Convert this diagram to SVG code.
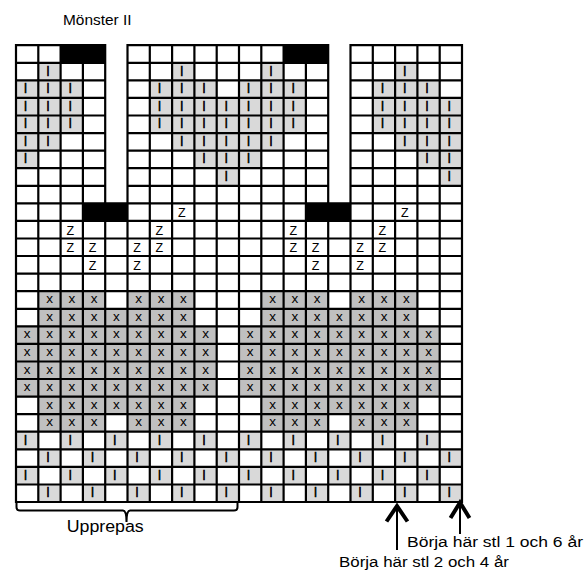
<svg xmlns="http://www.w3.org/2000/svg" width="587" height="571" viewBox="0 0 587 571">
<style>
.lt{fill:#d9d9d9}
.dk{fill:#c0c0c0}
.bk{fill:#000}
.grid{fill:none;stroke:#000;stroke-width:2.2;stroke-linecap:square}
.b{font-family:"Liberation Sans",Arial,sans-serif;font-size:11.5px;text-anchor:middle;fill:#000;stroke:#000;stroke-width:0.65}
.x{font-family:"Liberation Sans",Arial,sans-serif;font-size:13.5px;text-anchor:middle;fill:#000}
.z{font-family:"Liberation Sans",Arial,sans-serif;font-size:12.5px;text-anchor:middle;fill:#000}
.lab{font-family:"Liberation Sans",Arial,sans-serif;fill:#000}
.arr{fill:none;stroke:#000}
</style>
<defs>
<pattern id="chk" patternUnits="userSpaceOnUse" x="16" y="431.7" width="44.6" height="35.14">
<rect x="0" y="0" width="22.3" height="17.57" fill="#d9d9d9"/>
<rect x="22.3" y="17.57" width="22.3" height="17.57" fill="#d9d9d9"/>
</pattern>
</defs>
<rect x="0" y="0" width="587" height="571" fill="#fff"/>
<g id="title"><text class="lab" x="63" y="25" font-size="15" textLength="68.5" lengthAdjust="spacingAndGlyphs">Mönster II</text></g>
<g id="fills">
<rect class="lt" x="38.3" y="62.8" width="22.3" height="17.5"/>
<rect class="lt" x="16" y="80.3" width="66.9" height="52.8"/>
<rect class="lt" x="16" y="133.1" width="44.6" height="17.5"/>
<rect class="lt" x="16" y="150.6" width="22.3" height="17.6"/>
<rect class="lt" x="149.8" y="80.3" width="22.3" height="52.8"/>
<rect class="lt" x="172.1" y="62.8" width="22.3" height="87.8"/>
<rect class="lt" x="194.4" y="80.3" width="22.3" height="87.9"/>
<rect class="lt" x="216.7" y="97.9" width="22.3" height="87.9"/>
<rect class="lt" x="261.3" y="62.8" width="22.3" height="17.5"/>
<rect class="lt" x="239" y="80.3" width="66.9" height="52.8"/>
<rect class="lt" x="239" y="133.1" width="44.6" height="17.5"/>
<rect class="lt" x="239" y="150.6" width="22.3" height="17.6"/>
<rect class="lt" x="372.8" y="80.3" width="22.3" height="52.8"/>
<rect class="lt" x="395.1" y="62.8" width="22.3" height="87.8"/>
<rect class="lt" x="417.4" y="80.3" width="22.3" height="87.9"/>
<rect class="lt" x="439.7" y="97.9" width="22.3" height="87.9"/>
<rect class="dk" x="38.3" y="291.2" width="66.9" height="17.6"/>
<rect class="dk" x="127.5" y="291.2" width="66.9" height="17.6"/>
<rect class="dk" x="38.3" y="308.8" width="156.1" height="17.5"/>
<rect class="dk" x="16" y="326.3" width="200.7" height="70.3"/>
<rect class="dk" x="38.3" y="396.6" width="156.1" height="17.6"/>
<rect class="dk" x="38.3" y="414.2" width="66.9" height="17.5"/>
<rect class="dk" x="127.5" y="414.2" width="66.9" height="17.5"/>
<rect class="dk" x="261.3" y="291.2" width="66.9" height="17.6"/>
<rect class="dk" x="350.5" y="291.2" width="66.9" height="17.6"/>
<rect class="dk" x="261.3" y="308.8" width="156.1" height="17.5"/>
<rect class="dk" x="239" y="326.3" width="200.7" height="70.3"/>
<rect class="dk" x="261.3" y="396.6" width="156.1" height="17.6"/>
<rect class="dk" x="261.3" y="414.2" width="66.9" height="17.5"/>
<rect class="dk" x="350.5" y="414.2" width="66.9" height="17.5"/>
<rect x="16" y="431.7" width="446" height="70.3" fill="url(#chk)"/>
<rect class="bk" x="60.6" y="45.2" width="44.6" height="17.6"/>
<rect class="bk" x="283.6" y="45.2" width="44.6" height="17.6"/>
<rect class="bk" x="82.9" y="203.3" width="44.6" height="17.6"/>
<rect class="bk" x="305.9" y="203.3" width="44.6" height="17.6"/>
</g>
<g id="grid">
<path class="grid" d="M16 45.2H105.2M127.5 45.2H328.2M350.5 45.2H462
M16 62.8H105.2M127.5 62.8H328.2M350.5 62.8H462
M16 80.3H105.2M127.5 80.3H328.2M350.5 80.3H462
M16 97.9H105.2M127.5 97.9H328.2M350.5 97.9H462
M16 115.5H105.2M127.5 115.5H328.2M350.5 115.5H462
M16 133.1H105.2M127.5 133.1H328.2M350.5 133.1H462
M16 150.6H105.2M127.5 150.6H328.2M350.5 150.6H462
M16 168.2H105.2M127.5 168.2H328.2M350.5 168.2H462
M16 185.8H105.2M127.5 185.8H328.2M350.5 185.8H462
M16 203.3H462M16 220.9H462M16 238.5H462M16 256H462M16 273.6H462M16 291.2H462
M16 308.8H462M16 326.3H462M16 343.9H462M16 361.5H462M16 379H462M16 396.6H462
M16 414.2H462M16 431.7H462M16 449.3H462M16 466.9H462M16 484.5H462M16 502H462
M16 45.2V502M38.3 45.2V502M60.6 45.2V502M82.9 45.2V502M105.2 45.2V502M127.5 45.2V502
M149.8 45.2V502M172.1 45.2V502M194.4 45.2V502M216.7 45.2V502M239 45.2V502
M261.3 45.2V502M283.6 45.2V502M305.9 45.2V502M328.2 45.2V502M350.5 45.2V502
M372.8 45.2V502M395.1 45.2V502M417.4 45.2V502M439.7 45.2V502M462 45.2V502"/>
</g>
<g id="bars" class="b">
<text x="47.9" y="73.6">|</text><text x="181.7" y="73.6">|</text><text x="270.9" y="73.6">|</text><text x="404.7" y="73.6">|</text>
<text x="25.6" y="91.1">|</text><text x="47.9" y="91.1">|</text><text x="70.2" y="91.1">|</text><text x="159.4" y="91.1">|</text><text x="181.7" y="91.1">|</text><text x="204" y="91.1">|</text>
<text x="248.6" y="91.1">|</text><text x="270.9" y="91.1">|</text><text x="293.2" y="91.1">|</text><text x="382.4" y="91.1">|</text><text x="404.7" y="91.1">|</text><text x="427" y="91.1">|</text>
<text x="25.6" y="108.7">|</text><text x="47.9" y="108.7">|</text><text x="70.2" y="108.7">|</text><text x="159.4" y="108.7">|</text><text x="181.7" y="108.7">|</text><text x="204" y="108.7">|</text><text x="226.3" y="108.7">|</text>
<text x="248.6" y="108.7">|</text><text x="270.9" y="108.7">|</text><text x="293.2" y="108.7">|</text><text x="382.4" y="108.7">|</text><text x="404.7" y="108.7">|</text><text x="427" y="108.7">|</text><text x="449.3" y="108.7">|</text>
<text x="25.6" y="126.3">|</text><text x="47.9" y="126.3">|</text><text x="70.2" y="126.3">|</text><text x="159.4" y="126.3">|</text><text x="181.7" y="126.3">|</text><text x="204" y="126.3">|</text><text x="226.3" y="126.3">|</text>
<text x="248.6" y="126.3">|</text><text x="270.9" y="126.3">|</text><text x="293.2" y="126.3">|</text><text x="382.4" y="126.3">|</text><text x="404.7" y="126.3">|</text><text x="427" y="126.3">|</text><text x="449.3" y="126.3">|</text>
<text x="25.6" y="143.9">|</text><text x="47.9" y="143.9">|</text><text x="181.7" y="143.9">|</text><text x="204" y="143.9">|</text><text x="226.3" y="143.9">|</text>
<text x="248.6" y="143.9">|</text><text x="270.9" y="143.9">|</text><text x="404.7" y="143.9">|</text><text x="427" y="143.9">|</text><text x="449.3" y="143.9">|</text>
<text x="25.6" y="161.4">|</text><text x="204" y="161.4">|</text><text x="226.3" y="161.4">|</text>
<text x="248.6" y="161.4">|</text><text x="427" y="161.4">|</text><text x="449.3" y="161.4">|</text>
<text x="226.3" y="179">|</text><text x="449.3" y="179">|</text>
<text x="25.6" y="442.5">|</text><text x="70.2" y="442.5">|</text><text x="114.8" y="442.5">|</text><text x="159.4" y="442.5">|</text><text x="204" y="442.5">|</text><text x="248.6" y="442.5">|</text><text x="293.2" y="442.5">|</text><text x="337.8" y="442.5">|</text><text x="382.4" y="442.5">|</text><text x="427" y="442.5">|</text>
<text x="47.9" y="460.1">|</text><text x="92.5" y="460.1">|</text><text x="137.1" y="460.1">|</text><text x="181.7" y="460.1">|</text><text x="226.3" y="460.1">|</text><text x="270.9" y="460.1">|</text><text x="315.5" y="460.1">|</text><text x="360.1" y="460.1">|</text><text x="404.7" y="460.1">|</text><text x="449.3" y="460.1">|</text>
<text x="25.6" y="477.7">|</text><text x="70.2" y="477.7">|</text><text x="114.8" y="477.7">|</text><text x="159.4" y="477.7">|</text><text x="204" y="477.7">|</text><text x="248.6" y="477.7">|</text><text x="293.2" y="477.7">|</text><text x="337.8" y="477.7">|</text><text x="382.4" y="477.7">|</text><text x="427" y="477.7">|</text>
<text x="47.9" y="495.3">|</text><text x="92.5" y="495.3">|</text><text x="137.1" y="495.3">|</text><text x="181.7" y="495.3">|</text><text x="226.3" y="495.3">|</text><text x="270.9" y="495.3">|</text><text x="315.5" y="495.3">|</text><text x="360.1" y="495.3">|</text><text x="404.7" y="495.3">|</text><text x="449.3" y="495.3">|</text>
</g>
<g id="zs" class="z">
<text x="181.7" y="217.1">Z</text><text x="404.7" y="217.1">Z</text>
<text x="70.2" y="234.7">Z</text><text x="159.4" y="234.7">Z</text><text x="293.2" y="234.7">Z</text><text x="382.4" y="234.7">Z</text>
<text x="70.2" y="252.3">Z</text><text x="92.5" y="252.3">Z</text><text x="137.1" y="252.3">Z</text><text x="159.4" y="252.3">Z</text>
<text x="293.2" y="252.3">Z</text><text x="315.5" y="252.3">Z</text><text x="360.1" y="252.3">Z</text><text x="382.4" y="252.3">Z</text>
<text x="92.5" y="269.8">Z</text><text x="137.1" y="269.8">Z</text><text x="315.5" y="269.8">Z</text><text x="360.1" y="269.8">Z</text>
</g>
<g id="xs" class="x">
<text x="49.5" y="303.2">x</text><text x="71.8" y="303.2">x</text><text x="94.1" y="303.2">x</text><text x="138.7" y="303.2">x</text><text x="161" y="303.2">x</text><text x="183.3" y="303.2">x</text>
<text x="272.5" y="303.2">x</text><text x="294.8" y="303.2">x</text><text x="317.1" y="303.2">x</text><text x="361.7" y="303.2">x</text><text x="384" y="303.2">x</text><text x="406.3" y="303.2">x</text>
<text x="49.5" y="320.8">x</text><text x="71.8" y="320.8">x</text><text x="94.1" y="320.8">x</text><text x="116.4" y="320.8">x</text><text x="138.7" y="320.8">x</text><text x="161" y="320.8">x</text><text x="183.3" y="320.8">x</text>
<text x="272.5" y="320.8">x</text><text x="294.8" y="320.8">x</text><text x="317.1" y="320.8">x</text><text x="339.4" y="320.8">x</text><text x="361.7" y="320.8">x</text><text x="384" y="320.8">x</text><text x="406.3" y="320.8">x</text>
<text x="27.2" y="338.3">x</text><text x="49.5" y="338.3">x</text><text x="71.8" y="338.3">x</text><text x="94.1" y="338.3">x</text><text x="116.4" y="338.3">x</text><text x="138.7" y="338.3">x</text><text x="161" y="338.3">x</text><text x="183.3" y="338.3">x</text><text x="205.6" y="338.3">x</text>
<text x="250.2" y="338.3">x</text><text x="272.5" y="338.3">x</text><text x="294.8" y="338.3">x</text><text x="317.1" y="338.3">x</text><text x="339.4" y="338.3">x</text><text x="361.7" y="338.3">x</text><text x="384" y="338.3">x</text><text x="406.3" y="338.3">x</text><text x="428.6" y="338.3">x</text>
<text x="27.2" y="355.9">x</text><text x="49.5" y="355.9">x</text><text x="71.8" y="355.9">x</text><text x="94.1" y="355.9">x</text><text x="116.4" y="355.9">x</text><text x="138.7" y="355.9">x</text><text x="161" y="355.9">x</text><text x="183.3" y="355.9">x</text><text x="205.6" y="355.9">x</text>
<text x="250.2" y="355.9">x</text><text x="272.5" y="355.9">x</text><text x="294.8" y="355.9">x</text><text x="317.1" y="355.9">x</text><text x="339.4" y="355.9">x</text><text x="361.7" y="355.9">x</text><text x="384" y="355.9">x</text><text x="406.3" y="355.9">x</text><text x="428.6" y="355.9">x</text>
<text x="27.2" y="373.5">x</text><text x="49.5" y="373.5">x</text><text x="71.8" y="373.5">x</text><text x="94.1" y="373.5">x</text><text x="116.4" y="373.5">x</text><text x="138.7" y="373.5">x</text><text x="161" y="373.5">x</text><text x="183.3" y="373.5">x</text><text x="205.6" y="373.5">x</text>
<text x="250.2" y="373.5">x</text><text x="272.5" y="373.5">x</text><text x="294.8" y="373.5">x</text><text x="317.1" y="373.5">x</text><text x="339.4" y="373.5">x</text><text x="361.7" y="373.5">x</text><text x="384" y="373.5">x</text><text x="406.3" y="373.5">x</text><text x="428.6" y="373.5">x</text>
<text x="27.2" y="391">x</text><text x="49.5" y="391">x</text><text x="71.8" y="391">x</text><text x="94.1" y="391">x</text><text x="116.4" y="391">x</text><text x="138.7" y="391">x</text><text x="161" y="391">x</text><text x="183.3" y="391">x</text><text x="205.6" y="391">x</text>
<text x="250.2" y="391">x</text><text x="272.5" y="391">x</text><text x="294.8" y="391">x</text><text x="317.1" y="391">x</text><text x="339.4" y="391">x</text><text x="361.7" y="391">x</text><text x="384" y="391">x</text><text x="406.3" y="391">x</text><text x="428.6" y="391">x</text>
<text x="49.5" y="408.6">x</text><text x="71.8" y="408.6">x</text><text x="94.1" y="408.6">x</text><text x="116.4" y="408.6">x</text><text x="138.7" y="408.6">x</text><text x="161" y="408.6">x</text><text x="183.3" y="408.6">x</text>
<text x="272.5" y="408.6">x</text><text x="294.8" y="408.6">x</text><text x="317.1" y="408.6">x</text><text x="339.4" y="408.6">x</text><text x="361.7" y="408.6">x</text><text x="384" y="408.6">x</text><text x="406.3" y="408.6">x</text>
<text x="49.5" y="426.2">x</text><text x="71.8" y="426.2">x</text><text x="94.1" y="426.2">x</text><text x="138.7" y="426.2">x</text><text x="161" y="426.2">x</text><text x="183.3" y="426.2">x</text>
<text x="272.5" y="426.2">x</text><text x="294.8" y="426.2">x</text><text x="317.1" y="426.2">x</text><text x="361.7" y="426.2">x</text><text x="384" y="426.2">x</text><text x="406.3" y="426.2">x</text>
</g>
<g id="repeat-brace">
<path d="M16.5 501V507Q16.5 510.5 20 510.5H123Q126.5 510.5 126.5 522Q126.5 510.5 130 510.5H234Q237.5 510.5 237.5 507V501" fill="none" stroke="#000" stroke-width="2"/>
<text class="lab" x="66.7" y="531.7" font-size="16" textLength="77" lengthAdjust="spacingAndGlyphs">Upprepas</text>
</g>
<g id="arrows">
<line class="arr" x1="397" y1="507" x2="397" y2="550" stroke-width="2"/>
<polyline class="arr" points="386.5,521.5 397,506 407.5,521.5" stroke-width="4"/>
<line class="arr" x1="460" y1="503" x2="460" y2="534" stroke-width="2"/>
<polyline class="arr" points="450.5,518 460,502.5 469.5,518" stroke-width="4"/>
</g>
<g id="start-labels">
<text class="lab" x="407" y="546.7" font-size="15.5" textLength="176" lengthAdjust="spacingAndGlyphs">Börja här stl 1 och 6 år</text>
<text class="lab" x="339" y="566.7" font-size="15.5" textLength="170" lengthAdjust="spacingAndGlyphs">Börja här stl 2 och 4 år</text>
</g>
</svg>
